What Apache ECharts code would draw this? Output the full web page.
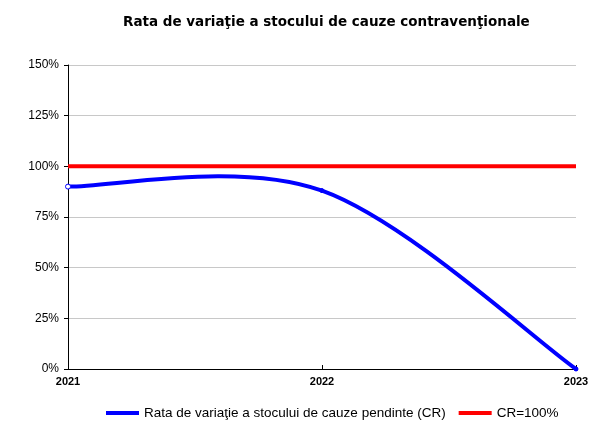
<!DOCTYPE html>
<html>
<head>
<meta charset="utf-8">
<script src="https://cdn.jsdelivr.net/npm/echarts@6/dist/echarts.min.js"></script>
<style>
  html, body { margin: 0; padding: 0; background: #fff; }
  #chart { width: 601px; height: 427px; }
</style>
</head>
<body>
<div id="chart"></div>
<script>
// date
const years = ['2021', '2022', '2023']
const crValues = [90, 88, 0]
const targetValues = [100, 100, 100]
const yTicks = [0, 25, 50, 75, 100, 125, 150]

const crName = 'Rata de variaţie a stocului de cauze pendinte (CR)'
const targetName = 'CR=100%'

const chart = echarts.init(document.getElementById('chart'))

// curba netezita ca in Excel (Catmull-Rom -> Bezier), punctele trec prin scala axelor
const renderSmoothSegment = (params, api) => {
  const i = params.dataIndex
  const n = crValues.length
  const pt = j => {
    const k = Math.max(0, Math.min(n - 1, j))
    return api.coord([k, crValues[k]])
  }
  const children = []
  if (i < n - 1) {
    const p0 = pt(i - 1), p1 = pt(i), p2 = pt(i + 1), p3 = pt(i + 2)
    children.push({
      type: 'bezierCurve',
      shape: {
        x1: p1[0], y1: p1[1],
        x2: p2[0], y2: p2[1],
        cpx1: p1[0] + (p2[0] - p0[0]) / 6,
        cpy1: p1[1] + (p2[1] - p0[1]) / 6,
        cpx2: p2[0] - (p3[0] - p1[0]) / 6,
        cpy2: p2[1] - (p3[1] - p1[1]) / 6
      },
      style: { stroke: '#0000ff', lineWidth: 4, fill: null, lineCap: 'round' }
    })
  }
  const c = pt(i)
  children.push({
    type: 'circle',
    shape: { cx: c[0], cy: c[1], r: i === 0 ? 2.5 : 2 },
    style: { fill: i === 0 ? '#fff' : '#0000ff', stroke: '#0000ff', lineWidth: 1 },
    z2: 10
  })
  return { type: 'group', children }
}

const option = {
  backgroundColor: '#fff',
  animation: false,
  title: {
    text: 'Rata de variaţie a stocului de cauze contravenţionale',
    left: 118,
    top: 10,
    textStyle: { fontFamily: 'DejaVu Sans', fontSize: 13.5, fontWeight: 'bold', color: '#000' }
  },
  legend: {
    bottom: 2,
    left: 101,
    itemWidth: 33,
    itemHeight: 4,
    itemGap: 13,
    textStyle: { fontFamily: 'Liberation Sans', fontSize: 13.5, color: '#000' },
    data: [
      { name: crName, icon: 'rect', itemStyle: { color: '#0000ff' } },
      { name: targetName, icon: 'rect', itemStyle: { color: '#ff0000' } }
    ]
  },
  grid: { left: 68, right: 25, top: 65, bottom: 58 },
  xAxis: {
    type: 'category',
    data: years,
    boundaryGap: false,
    axisLine: { lineStyle: { color: '#000', width: 1 } },
    axisTick: { show: true, length: 4, lineStyle: { color: '#000' }, inside: true },
    axisLabel: { fontFamily: 'Liberation Sans', fontSize: 11, fontWeight: 'bold', color: '#000', margin: 7 },
    splitLine: { show: false }
  },
  yAxis: {
    type: 'value',
    min: yTicks[0],
    max: yTicks[yTicks.length - 1],
    interval: 25,
    axisLine: { show: true, lineStyle: { color: '#000', width: 1 } },
    axisTick: { show: true, length: 4, lineStyle: { color: '#000' } },
    axisLabel: { formatter: '{value}%', fontFamily: 'Liberation Sans', fontSize: 12, color: '#000', margin: 9 },
    splitLine: { show: true, lineStyle: { color: '#c8c8c8', width: 1 } }
  },
  series: [
    {
      name: crName,
      type: 'custom',
      data: crValues.map((v, i) => [i, v]),
      renderItem: renderSmoothSegment,
      itemStyle: { color: '#0000ff' },
      encode: { x: 0, y: 1 },
      clip: false,
      z: 3
    },
    {
      name: targetName,
      type: 'line',
      data: targetValues,
      symbol: 'none',
      itemStyle: { color: '#ff0000' },
      lineStyle: { color: '#ff0000', width: 4 },
      z: 2
    }
  ]
}

chart.setOption(option)
</script>
</body>
</html>
